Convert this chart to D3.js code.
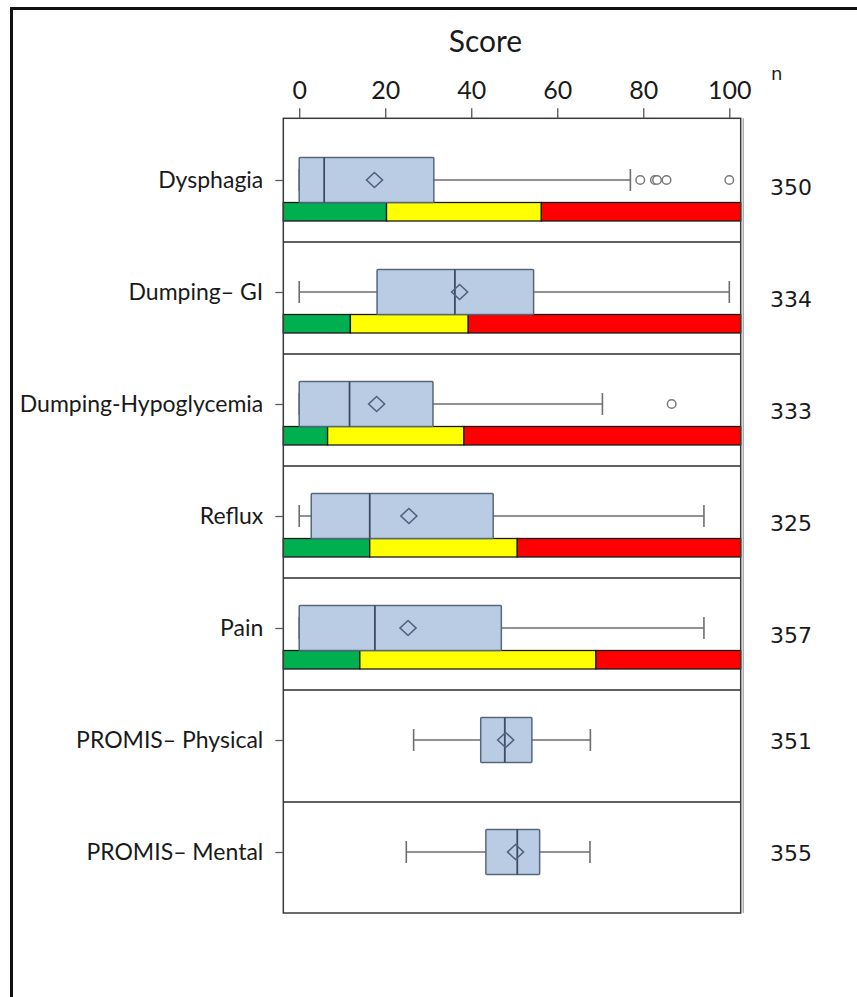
<!DOCTYPE html>
<html>
<head>
<meta charset="utf-8">
<script src="https://cdn.jsdelivr.net/npm/d3@7"></script>
<style>
  body { margin: 0; background: #fff; }
  svg { display: block; }
</style>
</head>
<body>
<svg id="chart" width="857" height="997"></svg>
<script>
// Symptom and quality-of-life scores (0–100), one box per questionnaire scale
const categories = ["Dysphagia", "Dumping– GI", "Dumping-Hypoglycemia", "Reflux", "Pain", "PROMIS– Physical", "PROMIS– Mental"];
const sampleSizes = [350, 334, 333, 325, 357, 351, 355];
const whiskerLow = [0, 0, 0, 0, 0, 26.6, 24.9];
const quartile1 = [0, 18.1, 0, 2.8, 0, 42.2, 43.4];
const medians = [5.8, 36.2, 11.7, 16.4, 17.6, 47.8, 50.7];
const quartile3 = [31.3, 54.5, 31.1, 45.1, 47, 54.1, 55.9];
const whiskerHigh = [77, 100, 70.5, 94.1, 94.1, 67.7, 67.6];
const means = [17.5, 37.3, 18, 25.5, 25.3, 48, 50.3];
const outliers = [[79.3, 82.7, 83.2, 85.4, 100], [], [86.6], [], [], [], []];
// Severity bands: green up to the first cut-point, yellow up to the second, red above
const greenUpTo = [20.3, 11.9, 6.6, 16.4, 14.1, null, null];
const yellowUpTo = [56.3, 39.3, 38.3, 50.7, 69, null, null];
const tickValues = [0, 20, 40, 60, 80, 100];
const axisTitle = "Score";
const nHeader = "n";

const svg = d3.select("#chart");

// outer frame (left and top edges)
svg.append("path")
  .attr("d", "M11.5,997V8.5H857")
  .attr("fill", "none")
  .attr("stroke", "#111")
  .attr("stroke-width", 3);

const x = d3.scaleLinear().domain([-3.7, 102.65]).range([283.3, 740.7]);
const y = d3.scalePoint().domain(categories).range([180, 852]);
const step = y.step();
const plotTop = y(categories[0]) - 61.7;
const plotBottom = y(categories[categories.length - 1]) + 61;
const [xMin, xMax] = x.domain();

const rows = categories.map((c, i) => ({
  cat: c, i, n: sampleSizes[i], lo: whiskerLow[i], q1: quartile1[i], med: medians[i],
  q3: quartile3[i], hi: whiskerHigh[i], mean: means[i], out: outliers[i],
  g: greenUpTo[i], yl: yellowUpTo[i]
}));

// row separators
svg.append("g").selectAll("line")
  .data(categories.slice(0, -1))
  .join("line")
  .attr("x1", x.range()[0]).attr("x2", x.range()[1])
  .attr("y1", d => y(d) + step / 2 + 6)
  .attr("y2", d => y(d) + step / 2 + 6)
  .attr("stroke", "#2b2b2b").attr("stroke-width", 1.6);

// severity bands
const bandRows = rows.filter(r => r.g !== null);
const bandG = svg.append("g");
bandRows.forEach(r => {
  const segs = [
    { a: xMin, b: r.g, color: "#00b050" },
    { a: r.g, b: r.yl, color: "#ffff00" },
    { a: r.yl, b: xMax, color: "#ff0000" }
  ];
  bandG.selectAll(null).data(segs).join("rect")
    .attr("x", d => x(d.a))
    .attr("width", d => x(d.b) - x(d.a))
    .attr("y", y(r.cat) + 22.5)
    .attr("height", 18.5)
    .attr("fill", d => d.color)
    .attr("stroke", "#1a1a1a")
    .attr("stroke-width", 1.3);
});

// whiskers
const wg = svg.append("g").attr("stroke", "#6e6e6e").attr("stroke-width", 1.6);
wg.selectAll(".wl").data(rows).join("line")
  .attr("x1", d => x(d.lo)).attr("x2", d => x(d.hi))
  .attr("y1", d => y(d.cat)).attr("y2", d => y(d.cat));
wg.selectAll(".cap-lo").data(rows).join("line")
  .attr("x1", d => x(d.lo)).attr("x2", d => x(d.lo))
  .attr("y1", d => y(d.cat) - 11).attr("y2", d => y(d.cat) + 11);
wg.selectAll(".cap-hi").data(rows).join("line")
  .attr("x1", d => x(d.hi)).attr("x2", d => x(d.hi))
  .attr("y1", d => y(d.cat) - 11).attr("y2", d => y(d.cat) + 11);

// boxes
svg.append("g").selectAll("rect").data(rows).join("rect")
  .attr("x", d => x(d.q1))
  .attr("width", d => x(d.q3) - x(d.q1))
  .attr("y", d => y(d.cat) - 22.5)
  .attr("height", 45)
  .attr("rx", 1)
  .attr("fill", "#b9cce4")
  .attr("stroke", "#56677e")
  .attr("stroke-width", 1.5);

// medians
svg.append("g").selectAll("line").data(rows).join("line")
  .attr("x1", d => x(d.med)).attr("x2", d => x(d.med))
  .attr("y1", d => y(d.cat) - 22.5).attr("y2", d => y(d.cat) + 22.5)
  .attr("stroke", "#3e4c61").attr("stroke-width", 1.8);

// means (diamonds)
svg.append("g").selectAll("path").data(rows).join("path")
  .attr("transform", d => `translate(${x(d.mean)},${y(d.cat)})`)
  .attr("d", "M0,-7.5L8,0L0,7.5L-8,0Z")
  .attr("fill", "none")
  .attr("stroke", "#4f6280")
  .attr("stroke-width", 1.6);

// outliers
const outPts = rows.flatMap(r => r.out.map(v => ({ cat: r.cat, v })));
svg.append("g").selectAll("circle").data(outPts).join("circle")
  .attr("cx", d => x(d.v)).attr("cy", d => y(d.cat))
  .attr("r", 4.3)
  .attr("fill", "#fff")
  .attr("stroke", "#7a7a7a")
  .attr("stroke-width", 1.5);

// plot border
svg.append("rect")
  .attr("x", x.range()[0]).attr("y", plotTop)
  .attr("width", x.range()[1] - x.range()[0])
  .attr("height", plotBottom - plotTop)
  .attr("fill", "none")
  .attr("stroke", "#3a3a3a")
  .attr("stroke-width", 1.5);
svg.append("line")
  .attr("x1", x.range()[1] + 2.5).attr("x2", x.range()[1] + 2.5)
  .attr("y1", plotTop).attr("y2", plotBottom)
  .attr("stroke", "#9a9a9a").attr("stroke-width", 1.2);

// top axis
const xAxis = svg.append("g")
  .attr("transform", `translate(0,${plotTop})`)
  .call(d3.axisTop(x).tickValues(tickValues).tickSize(10).tickPadding(9).tickFormat(d3.format("d")));
xAxis.select(".domain").remove();
xAxis.selectAll(".tick line").attr("stroke", "#555").attr("stroke-width", 1.3);
xAxis.selectAll(".tick text")
  .attr("fill", "#1a1a1a")
  .style("font-family", "Lato, sans-serif")
  .style("font-size", "25px");

// left category axis
const yAxis = svg.append("g")
  .attr("transform", `translate(${x.range()[0]},0)`)
  .call(d3.axisLeft(y).tickSize(8).tickPadding(12));
yAxis.select(".domain").remove();
yAxis.selectAll(".tick line").attr("stroke", "#555").attr("stroke-width", 1.2);
yAxis.selectAll(".tick text")
  .attr("fill", "#1a1a1a")
  .style("font-family", "Lato, sans-serif")
  .style("font-size", "23px");

// axis title
svg.append("text")
  .attr("x", 485.5).attr("y", 52)
  .attr("text-anchor", "middle")
  .attr("fill", "#1a1a1a")
  .style("font-family", "Lato, sans-serif")
  .style("font-size", "30px")
  .text(axisTitle);

// sample sizes
svg.append("text")
  .attr("x", 771).attr("y", 80)
  .attr("fill", "#1a1a1a")
  .style("font-family", "DejaVu Sans, sans-serif")
  .style("font-size", "18px")
  .text(nHeader);
svg.append("g").selectAll("text").data(rows).join("text")
  .attr("x", 770)
  .attr("y", d => y(d.cat) + (d.g !== null ? 7 : 1))
  .attr("dominant-baseline", "central")
  .attr("fill", "#1a1a1a")
  .style("font-family", "DejaVu Sans, sans-serif")
  .style("font-size", "22px")
  .text(d => d.n);
</script>
</body>
</html>
